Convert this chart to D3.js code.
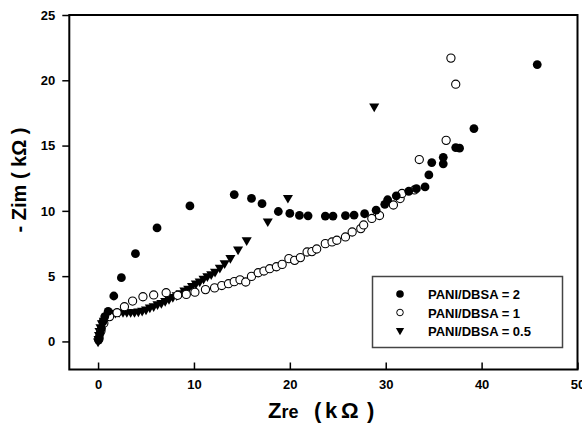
<!DOCTYPE html>
<html>
<head>
<meta charset="utf-8">
<script src="https://cdn.jsdelivr.net/npm/d3@7"></script>
<style>
  html, body { margin: 0; padding: 0; background: #fff; }
  text { font-family: "Liberation Sans", Arial, sans-serif; font-weight: bold; fill: #000; }
</style>
</head>
<body>
<svg id="chart" width="582" height="427"></svg>
<script>
// ---- data ----
const seriesNames = ["PANI/DBSA = 2", "PANI/DBSA = 1", "PANI/DBSA = 0.5"];
const xTicks = [0, 10, 20, 30, 40, 50];
const yTicks = [0, 5, 10, 15, 20, 25];

const ratio2 = [
  [0.05,0.1],[0.1,0.3],[0.2,0.6],[0.35,1.0],[0.5,1.5],[0.7,1.9],[1.05,2.3],[1.64,3.48],
  [2.43,4.88],[3.9,6.72],[6.15,8.69],[9.58,10.38],[14.2,11.25],[16.0,10.95],[17.1,10.55],
  [18.8,9.95],[20.0,9.8],[21.0,9.65],[21.9,9.62],[23.7,9.6],[24.5,9.6],[25.8,9.64],
  [26.7,9.68],[27.8,9.78],[29.0,10.05],[29.9,10.5],[30.2,10.85],[31.1,11.15],[32.4,11.5],
  [33.2,11.7],[34.1,11.83],[34.5,12.75],[34.8,13.7],[36.0,13.6],[36.0,14.1],[37.3,14.85],
  [37.7,14.8],[39.2,16.3],[45.8,21.2]
];
const ratio1 = [
  [0.1,0.2],[0.3,0.8],[0.6,1.4],[1.2,1.9],[1.98,2.2],[2.75,2.66],[3.6,3.09],[4.68,3.42],
  [5.8,3.56],[7.1,3.73],[8.3,3.53],[9.2,3.6],[10.1,3.77],[11.2,3.97],[12.15,4.1],[12.9,4.28],
  [13.6,4.42],[14.2,4.58],[14.8,4.72],[15.4,4.55],[16.0,4.98],[16.7,5.26],[17.3,5.39],
  [17.9,5.57],[18.6,5.72],[19.2,5.9],[19.9,6.34],[20.5,6.21],[21.1,6.42],[21.8,6.85],
  [22.3,6.88],[22.8,7.08],[23.7,7.49],[24.4,7.62],[24.9,7.75],[25.8,8.0],[26.5,8.38],
  [27.4,8.64],[27.7,8.92],[28.55,9.42],[29.35,9.64],[30.8,10.45],[31.5,10.94],[31.7,11.33],
  [33.0,11.6],[33.5,13.93],[36.3,15.4],[37.3,19.7],[36.8,21.7]
];
const ratio05 = [
  [0,0],[0.05,0.2],[0.1,0.5],[0.15,0.8],[0.25,1.1],[0.4,1.4],[0.6,1.6],[0.8,1.8],[1.1,2.0],
  [1.4,2.1],[1.8,2.2],[2.2,2.25],[2.6,2.25],[3.0,2.25],[3.4,2.25],[3.8,2.25],[4.2,2.3],
  [4.6,2.35],[5.0,2.45],[5.4,2.6],[5.8,2.7],[6.2,2.85],[6.6,2.95],[7.0,3.1],[7.4,3.25],
  [7.8,3.4],[8.2,3.55],[8.6,3.7],[9.0,3.9],[9.4,4.05],[9.8,4.25],[10.2,4.45],[10.6,4.6],
  [11.0,4.8],[11.4,5.0],[11.8,5.15],[12.2,5.35],[12.7,5.65],[13.2,6.0],[13.8,6.4],
  [14.6,7.05],[15.5,7.75],[17.7,9.2],[19.8,11.0],[28.8,18.0]
];

// ---- layout ----
const svg = d3.select("#chart");
const x = d3.scaleLinear().domain([-3, 50]).range([69.3, 577.5]);
const y = d3.scaleLinear().domain([-2.15, 25]).range([369.5, 15]);

// frame
svg.append("rect")
  .attr("x", x(-3)).attr("y", y(25))
  .attr("width", x(50) - x(-3)).attr("height", y(-2.15) - y(25))
  .attr("fill", "none").attr("stroke", "#000").attr("stroke-width", 2);

// x axis (ticks inward)
const xAxis = svg.append("g").attr("transform", `translate(0,${y(-2.15)})`)
  .call(d3.axisBottom(x).tickValues(xTicks).tickSize(-7).tickPadding(10).tickFormat(d3.format("d")));
xAxis.select(".domain").remove();
xAxis.selectAll("line").attr("stroke", "#000").attr("stroke-width", 1.5);
xAxis.selectAll("text").attr("font-size", 13).attr("dy", "0.71em")
  .style("font-family", "Liberation Sans, Arial, sans-serif").style("font-weight", "bold");

// y axis (ticks outward)
const yAxis = svg.append("g").attr("transform", `translate(${x(-3)},0)`)
  .call(d3.axisLeft(y).tickValues(yTicks).tickSize(7).tickPadding(7).tickFormat(d3.format("d")));
yAxis.select(".domain").remove();
yAxis.selectAll("line").attr("stroke", "#000").attr("stroke-width", 1.5);
yAxis.selectAll("text").attr("font-size", 13)
  .style("font-family", "Liberation Sans, Arial, sans-serif").style("font-weight", "bold");

// axis titles
const xt = svg.append("text").attr("y", 418).attr("text-anchor", "start");
xt.append("tspan").attr("x", 268).attr("font-size", 22).text("Z");
xt.append("tspan").attr("font-size", 18).text("re");
xt.append("tspan").attr("x", 314).attr("font-size", 22).text("(");
xt.append("tspan").attr("x", 325).attr("font-size", 22).text("k");
xt.append("tspan").attr("x", 341).attr("font-size", 22).text("Ω");
xt.append("tspan").attr("x", 367).attr("font-size", 22).text(")");

svg.append("text")
  .attr("transform", "translate(26,180) rotate(-90)")
  .attr("text-anchor", "middle").attr("font-size", 20)
  .text("- Zim ( k\u03A9 )");

// ---- marks ----
const tri = d3.symbol().type(d3.symbolTriangle).size(44);
const plot = svg.append("g");

plot.selectAll("path.t").data(ratio05).join("path")
  .attr("class", "t")
  .attr("d", tri)
  .attr("transform", d => `translate(${x(d[0])},${y(d[1])}) rotate(180)`)
  .attr("fill", "#000");

plot.selectAll("circle.o").data(ratio1).join("circle")
  .attr("class", "o")
  .attr("cx", d => x(d[0])).attr("cy", d => y(d[1])).attr("r", 4.1)
  .attr("fill", "#fff").attr("stroke", "#000").attr("stroke-width", 1.1);

plot.selectAll("circle.f").data(ratio2).join("circle")
  .attr("class", "f")
  .attr("cx", d => x(d[0])).attr("cy", d => y(d[1])).attr("r", 4.4)
  .attr("fill", "#000");

// ---- legend ----
const lg = svg.append("g");
lg.append("rect").attr("x", 372.5).attr("y", 276.5).attr("width", 190).attr("height", 71)
  .attr("fill", "#fff").attr("stroke", "#444").attr("stroke-width", 1.5);
const rows = [294, 312.5, 330.5];
lg.append("circle").attr("cx", 400).attr("cy", rows[0]).attr("r", 3.8).attr("fill", "#000");
lg.append("circle").attr("cx", 400).attr("cy", rows[1]).attr("r", 3.3)
  .attr("fill", "#fff").attr("stroke", "#000").attr("stroke-width", 1);
lg.append("path").attr("d", d3.symbol().type(d3.symbolTriangle).size(30))
  .attr("transform", `translate(400,${rows[2]}) rotate(180)`).attr("fill", "#000");
seriesNames.forEach((n, i) => {
  lg.append("text").attr("x", 428).attr("y", rows[i] + 5).attr("font-size", 13).text(n);
});
</script>
</body>
</html>
